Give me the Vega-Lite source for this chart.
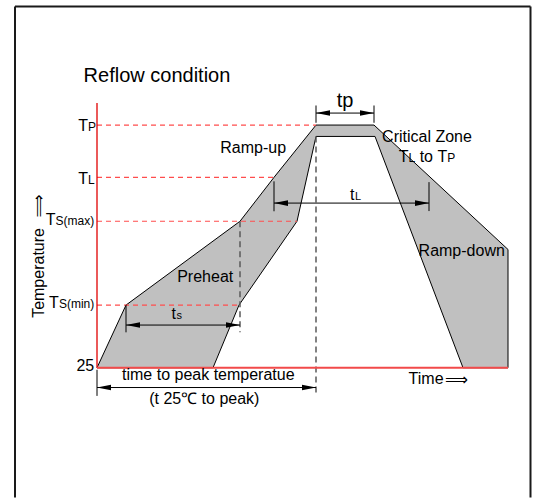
{
  "$schema": "https://vega.github.io/schema/vega-lite/v6.json",
  "width": 538,
  "height": 499,
  "padding": 0,
  "autosize": {"type": "fit", "contains": "padding"},
  "config": {"view": {"stroke": null}, "text": {"font": "Liberation Sans", "color": "#000"}},
  "datasets": {
    "frame": [
      {"t": -82, "T": 387, "t2": 433.5, "T2": 387},
      {"t": -82, "T": 387, "t2": -82, "T2": -105},
      {"t": 433.5, "T": 387, "t2": 433.5, "T2": -105}
    ],
    "profile": [
      {"i": 0, "t": 0, "T": 25},
      {"i": 1, "t": 29, "T": 87.8},
      {"i": 2, "t": 143, "T": 171.8},
      {"i": 3, "t": 177, "T": 215.8},
      {"i": 4, "t": 219, "T": 268.2},
      {"i": 5, "t": 277, "T": 268.2},
      {"i": 6, "t": 411, "T": 143.5},
      {"i": 7, "t": 411, "T": 25},
      {"i": 8, "t": 366, "T": 25},
      {"i": 9, "t": 278, "T": 256.8},
      {"i": 10, "t": 219, "T": 256.8},
      {"i": 11, "t": 200, "T": 171.8},
      {"i": 12, "t": 142, "T": 87.8},
      {"i": 13, "t": 116, "T": 25},
      {"i": 14, "t": 0, "T": 25}
    ],
    "levels": [
      {"t": 0, "T": 268.2, "t2": 219, "T2": 268.2},
      {"t": 0, "T": 215.8, "t2": 177, "T2": 215.8},
      {"t": 0, "T": 171.8, "t2": 200, "T2": 171.8},
      {"t": 0, "T": 87.8, "t2": 142, "T2": 87.8}
    ],
    "drops": [
      {"t": 143, "T": 171.8, "t2": 143, "T2": 60.5},
      {"t": 219, "T": 256.8, "t2": 219, "T2": -3.2}
    ],
    "tempAxis": [{"t": 0, "T": 290.2, "t2": 0, "T2": 25}],
    "timeAxis": [{"t": 0, "T": 25, "t2": 411, "T2": 25}],
    "dims": [
      {"t": 219, "T": 280.2, "t2": 277, "T2": 280.2},
      {"t": 177, "T": 190, "t2": 332, "T2": 190},
      {"t": 29, "T": 67.8, "t2": 143, "T2": 67.8},
      {"t": 0, "T": 5.2, "t2": 219, "T2": 5.2},
      {"t": 219, "T": 287.8, "t2": 219, "T2": 270.5},
      {"t": 277, "T": 287.8, "t2": 277, "T2": 270.5},
      {"t": 177, "T": 211.8, "t2": 177, "T2": 181.8},
      {"t": 332, "T": 211, "t2": 332, "T2": 182},
      {"t": 29, "T": 88, "t2": 29, "T2": 60.5},
      {"t": 0, "T": 23, "t2": 0, "T2": -3.2}
    ],
    "heads": [
      {"t": 226, "T": 280.2, "dir": "L"},
      {"t": 270, "T": 280.2, "dir": "R"},
      {"t": 184, "T": 190, "dir": "L"},
      {"t": 325, "T": 190, "dir": "R"},
      {"t": 36, "T": 67.8, "dir": "L"},
      {"t": 136, "T": 67.8, "dir": "R"},
      {"t": 7, "T": 5.2, "dir": "L"},
      {"t": 212, "T": 5.2, "dir": "R"}
    ],
    "labels16": [
      {"label": "Ramp-up", "t": 156.2, "T": 240},
      {"label": "Critical Zone", "t": 330, "T": 250.8},
      {"label": "Preheat", "t": 108.2, "T": 110.8},
      {"label": "Ramp-down", "t": 364.7, "T": 136.8},
      {"label": "time to peak temperatue", "t": 111.3, "T": 12.5},
      {"label": "(t 25℃ to peak)", "t": 107.3, "T": -11.6},
      {"label": "25", "t": -11.7, "T": 21.8},
      {"label": "Time", "t": 329.1, "T": 8.5},
      {"label": "to", "t": 329.3, "T": 230.8}
    ],
    "bigT": [
      {"label": "T", "t": -9, "T": 261.8},
      {"label": "T", "t": -9, "T": 209.5},
      {"label": "T", "t": -41.5, "T": 168.5},
      {"label": "T", "t": -38.1, "T": 85.2},
      {"label": "T", "t": 311.5, "T": 230.8},
      {"label": "T", "t": 350.2, "T": 230.8}
    ],
    "subs": [
      {"label": "P", "t": -9, "T": 261.8},
      {"label": "L", "t": -9, "T": 209.5},
      {"label": "S(max)", "t": -41.5, "T": 168.5},
      {"label": "S(min)", "t": -38.1, "T": 85.2},
      {"label": "L", "t": 311.5, "T": 230.8},
      {"label": "P", "t": 350.2, "T": 230.8}
    ],
    "dimT": [
      {"label": "t", "t": 253, "T": 193.5},
      {"label": "t", "t": 74.5, "T": 73.5}
    ],
    "dimSub": [
      {"label": "L", "t": 258, "T": 193.5},
      {"label": "s", "t": 79.5, "T": 73.5}
    ],
    "tp": [{"label": "tp", "t": 248, "T": 286}],
    "title": [{"label": "Reflow condition", "t": -13.4, "T": 311.5}],
    "yTitle": [{"label": "Temperature", "t": -58.5, "T": 120}],
    "yArrow": [{"label": "⟹", "t": -58, "T": 187}],
    "xArrow": [{"label": "⟹", "t": 359.4, "T": 12.5}]
  },
  "encoding": {
    "x": {"field": "t", "type": "quantitative", "scale": {"domain": [-97, 441], "nice": false, "zero": false}, "axis": null},
    "y": {"field": "T", "type": "quantitative", "scale": {"domain": [-105.5, 393.5], "nice": false, "zero": false}, "axis": null}
  },
  "layer": [
    {
      "data": {"name": "frame"},
      "mark": {"type": "rule", "stroke": "#1a1a1a", "strokeWidth": 2},
      "encoding": {"x2": {"field": "t2"}, "y2": {"field": "T2"}}
    },
    {
      "data": {"name": "profile"},
      "mark": {"type": "line", "fill": "#c0c0c0", "stroke": "#000", "strokeWidth": 1},
      "encoding": {"order": {"field": "i", "type": "quantitative"}}
    },
    {
      "data": {"name": "levels"},
      "mark": {"type": "rule", "stroke": "#ff4d4d", "strokeWidth": 1.2, "strokeDash": [5, 4]},
      "encoding": {"x2": {"field": "t2"}, "y2": {"field": "T2"}}
    },
    {
      "data": {"name": "drops"},
      "mark": {"type": "rule", "stroke": "#5a5a5a", "strokeWidth": 1.5, "strokeDash": [6, 4]},
      "encoding": {"x2": {"field": "t2"}, "y2": {"field": "T2"}}
    },
    {
      "data": {"name": "tempAxis"},
      "mark": {"type": "rule", "stroke": "#e00000", "strokeWidth": 1.3},
      "encoding": {"x2": {"field": "t2"}, "y2": {"field": "T2"}}
    },
    {
      "data": {"name": "timeAxis"},
      "mark": {"type": "rule", "stroke": "#f24a4a", "strokeWidth": 1.8},
      "encoding": {"x2": {"field": "t2"}, "y2": {"field": "T2"}}
    },
    {
      "data": {"name": "dims"},
      "mark": {"type": "rule", "stroke": "#000", "strokeWidth": 1},
      "encoding": {"x2": {"field": "t2"}, "y2": {"field": "T2"}}
    },
    {
      "data": {"name": "heads"},
      "mark": {"type": "point", "filled": true, "color": "#000", "size": 196, "opacity": 1, "strokeWidth": 0},
      "encoding": {
        "shape": {"field": "dir", "type": "nominal", "scale": {"domain": ["L", "R"], "range": ["M-1,0L1,-0.4L1,0.4Z", "M1,0L-1,-0.4L-1,0.4Z"]}, "legend": null}
      }
    },
    {
      "data": {"name": "labels16"},
      "mark": {"type": "text", "fontSize": 16, "align": "center", "baseline": "alphabetic"},
      "encoding": {"text": {"field": "label"}}
    },
    {
      "data": {"name": "bigT"},
      "mark": {"type": "text", "fontSize": 16, "align": "right", "baseline": "alphabetic"},
      "encoding": {"text": {"field": "label"}}
    },
    {
      "data": {"name": "subs"},
      "mark": {"type": "text", "fontSize": 12, "align": "left", "baseline": "alphabetic"},
      "encoding": {"text": {"field": "label"}}
    },
    {
      "data": {"name": "dimT"},
      "mark": {"type": "text", "fontSize": 16, "align": "left", "baseline": "alphabetic"},
      "encoding": {"text": {"field": "label"}}
    },
    {
      "data": {"name": "dimSub"},
      "mark": {"type": "text", "fontSize": 11, "align": "left", "baseline": "alphabetic"},
      "encoding": {"text": {"field": "label"}}
    },
    {
      "data": {"name": "tp"},
      "mark": {"type": "text", "fontSize": 20, "align": "center", "baseline": "alphabetic"},
      "encoding": {"text": {"field": "label"}}
    },
    {
      "data": {"name": "title"},
      "mark": {"type": "text", "fontSize": 20, "align": "left", "baseline": "alphabetic"},
      "encoding": {"text": {"field": "label"}}
    },
    {
      "data": {"name": "yTitle"},
      "mark": {"type": "text", "fontSize": 16, "align": "center", "baseline": "middle", "angle": 270},
      "encoding": {"text": {"field": "label"}}
    },
    {
      "data": {"name": "yArrow"},
      "mark": {"type": "text", "font": "DejaVu Sans", "fontSize": 16, "align": "center", "baseline": "middle", "angle": 270},
      "encoding": {"text": {"field": "label"}}
    },
    {
      "data": {"name": "xArrow"},
      "mark": {"type": "text", "font": "DejaVu Sans", "fontSize": 16, "align": "center", "baseline": "middle"},
      "encoding": {"text": {"field": "label"}}
    }
  ]
}
